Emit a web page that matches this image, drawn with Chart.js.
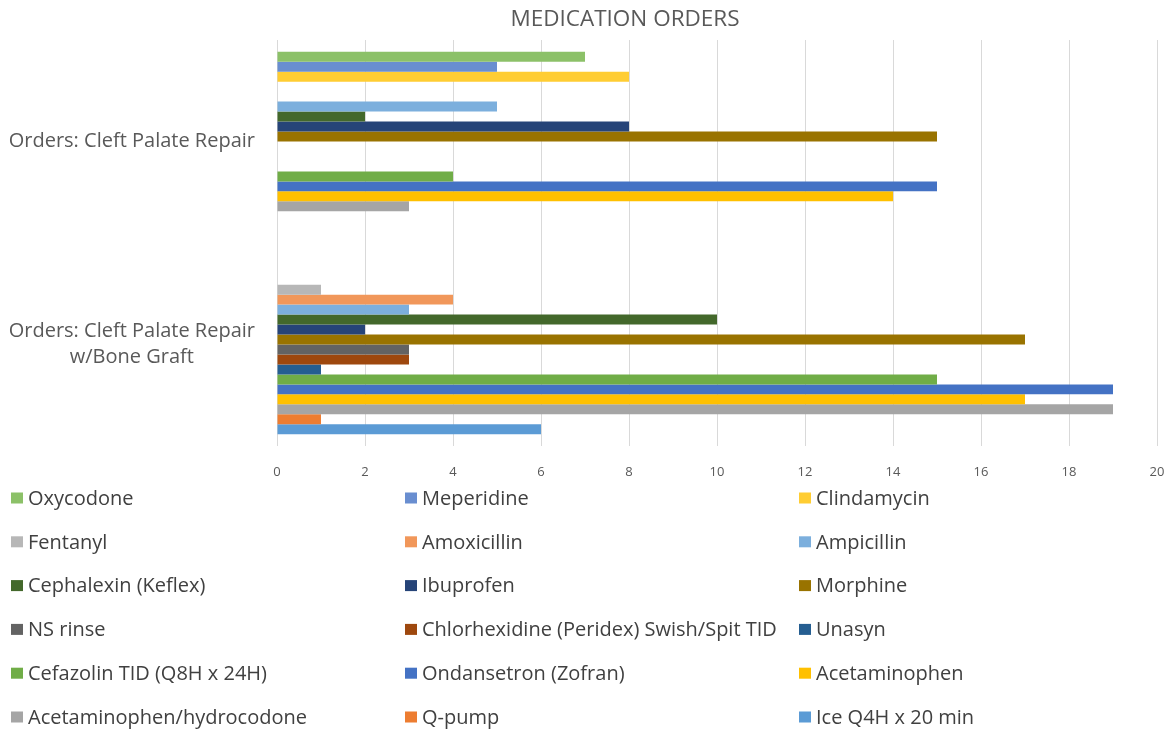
<!DOCTYPE html>
<html>
<head>
<meta charset="utf-8">
<title>Medication Orders</title>
<script src="https://cdn.jsdelivr.net/npm/chart.js@4/dist/chart.umd.min.js"></script>
<style>
  html, body { margin: 0; padding: 0; background: #ffffff; }
  canvas { display: block; }
</style>
</head>
<body>
<canvas id="chart" width="1167" height="731"></canvas>
<script>
// Procedure groups (multi-line label for the second one)
const categories = [
  'Orders: Cleft Palate Repair',
  ['Orders: Cleft Palate Repair', 'w/Bone Graft']
];

// Medications, in legend order (top bar of each group first)
const medications = [
  'Oxycodone', 'Meperidine', 'Clindamycin',
  'Fentanyl', 'Amoxicillin', 'Ampicillin',
  'Cephalexin (Keflex)', 'Ibuprofen', 'Morphine',
  'NS rinse', 'Chlorhexidine (Peridex) Swish/Spit TID', 'Unasyn',
  'Cefazolin TID (Q8H x 24H)', 'Ondansetron (Zofran)', 'Acetaminophen',
  'Acetaminophen/hydrocodone', 'Q-pump', 'Ice Q4H x 20 min'
];

// Number of orders per medication
const cleftPalateRepair = [7, 5, 8, 0, 0, 5, 2, 8, 15, 0, 0, 0, 4, 15, 14, 3, 0, 0];
const cleftPalateBoneGraft = [0, 0, 0, 1, 4, 3, 10, 2, 17, 3, 3, 1, 15, 19, 17, 19, 1, 6];

const seriesColors = [
  '#8CC168', '#698ED0', '#FFCD33',
  '#B7B7B7', '#F1975A', '#7CAFDD',
  '#43682B', '#264478', '#997300',
  '#636363', '#9E480E', '#255E91',
  '#70AD47', '#4472C4', '#FFC000',
  '#A5A5A5', '#ED7D31', '#5B9BD5'
];

const chartTitle = 'MEDICATION ORDERS';

const FONT = '"Open Sans", "Liberation Sans", sans-serif';

// Title drawn above the plot
const chartHeading = {
  id: 'chartHeading',
  afterDraw(chart, args, opts) {
    const ctx = chart.ctx;
    ctx.save();
    ctx.font = opts.size + 'px ' + FONT;
    ctx.fillStyle = opts.color;
    ctx.textAlign = 'center';
    ctx.textBaseline = 'middle';
    ctx.fillText(opts.text, opts.x, opts.y);
    ctx.restore();
  }
};

// Three-column legend drawn under the axis
const gridLegend = {
  id: 'gridLegend',
  afterDraw(chart, args, opts) {
    const ctx = chart.ctx;
    ctx.save();
    ctx.font = opts.size + 'px ' + FONT;
    ctx.textBaseline = 'middle';
    ctx.textAlign = 'left';
    chart.data.datasets.forEach((ds, i) => {
      const col = i % opts.columns;
      const row = Math.floor(i / opts.columns);
      const x = opts.left + col * opts.colWidth;
      const y = opts.top + row * opts.rowHeight;
      ctx.fillStyle = ds.backgroundColor;
      ctx.fillRect(x, y - opts.boxH / 2, opts.boxW, opts.boxH);
      ctx.fillStyle = opts.color;
      ctx.fillText(ds.label, x + opts.boxW + opts.gap, y + 1);
    });
    ctx.restore();
  }
};

const datasets = medications.map((name, i) => ({
  label: name,
  data: [cleftPalateRepair[i], cleftPalateBoneGraft[i]],
  backgroundColor: seriesColors[i],
  borderWidth: 0,
  categoryPercentage: 0.884,
  barPercentage: 1.0
}));

new Chart(document.getElementById('chart'), {
  type: 'bar',
  data: { labels: categories, datasets },
  plugins: [chartHeading, gridLegend],
  options: {
    responsive: false,
    animation: false,
    indexAxis: 'y',
    layout: { padding: { left: 0, right: 10, top: 40, bottom: 251 } },
    plugins: {
      legend: { display: false },
      tooltip: { enabled: false },
      title: { display: false },
      chartHeading: {
        text: chartTitle,
        x: 625,
        y: 20,
        size: 22.5,
        color: '#595959'
      },
      gridLegend: {
        columns: 3,
        left: 11,
        colWidth: 394,
        top: 498,
        rowHeight: 43.8,
        boxW: 12,
        boxH: 11,
        gap: 5,
        size: 20,
        color: '#404040'
      }
    },
    scales: {
      x: {
        min: 0,
        max: 20,
        ticks: {
          stepSize: 2,
          color: '#595959',
          padding: 18,
          font: { family: FONT, size: 13 }
        },
        grid: { color: '#d9d9d9', lineWidth: 1, drawTicks: false },
        border: { display: false },
        afterFit(scale) {
          scale.height = 34;
          scale.paddingLeft = 0;
          scale.paddingRight = 0;
        }
      },
      y: {
        ticks: {
          color: '#595959',
          crossAlign: 'center',
          padding: 22,
          font: { family: FONT, size: 20, lineHeight: 1.3 }
        },
        grid: { display: false, drawTicks: false },
        border: { display: false },
        afterFit(scale) {
          scale.width = 277;
          scale.paddingTop = 0;
          scale.paddingBottom = 0;
        }
      }
    }
  }
});
</script>
</body>
</html>
